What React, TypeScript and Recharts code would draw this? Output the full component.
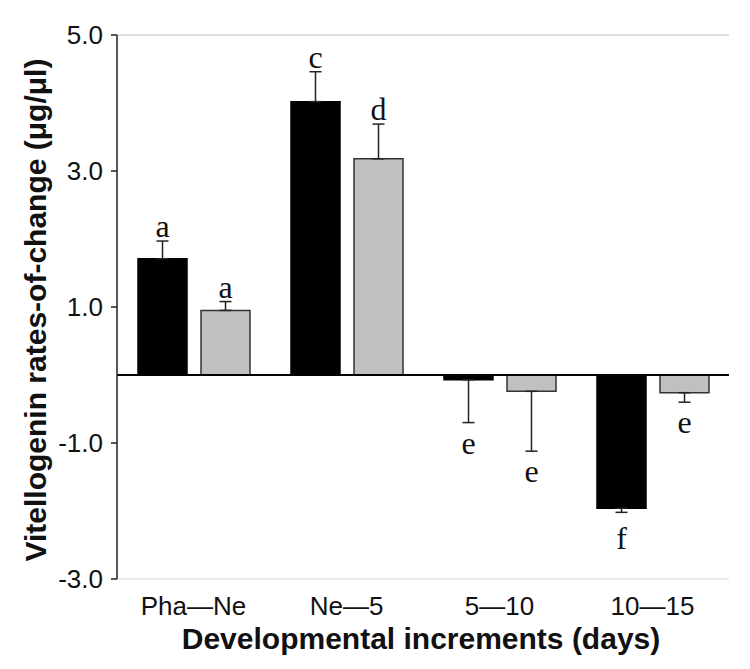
import { Bar, BarChart, ErrorBar, Label, LabelList, ReferenceLine, XAxis, YAxis } from "recharts";

const categories = ["Pha—Ne", "Ne—5", "5—10", "10—15"];
const blackValues = [1.71, 4.02, -0.07, -1.96];
const blackErrors = [0.26, 0.44, 0.63, 0.06];
const blackLetters = ["a", "c", "e", "f"];
const grayValues = [0.95, 3.18, -0.24, -0.26];
const grayErrors = [0.13, 0.51, 0.88, 0.14];
const grayLetters = ["a", "d", "e", "e"];
const yTicks = [-3, -1, 1, 3, 5];

// one-sided error bars: up for positive bars, down for negative ones
const oneSided = (v: number, e: number) => (v >= 0 ? [0, e] : [e, 0]);

const data = categories.map((name, i) => ({
  name,
  black: blackValues[i],
  blackErr: oneSided(blackValues[i], blackErrors[i]),
  gray: grayValues[i],
  grayErr: oneSided(grayValues[i], grayErrors[i]),
}));

const sans = "'Liberation Sans', Arial, sans-serif";
const serif = "'Liberation Serif', 'Times New Roman', serif";

function letterContent(values: number[], errors: number[], letters: string[]) {
  return (props: any) => {
    const i = categories.indexOf(props.value);
    if (i < 0) return null;
    const vb = props.viewBox ?? props;
    const x = vb.x ?? props.x;
    const y = vb.y ?? props.y;
    const w = vb.width ?? props.width;
    const h = vb.height ?? props.height;
    const v = values[i];
    const ppu = Math.abs(h / v);
    const endY = v >= 0 ? Math.min(y, y + h) : Math.max(y, y + h);
    const capY = v >= 0 ? endY - errors[i] * ppu : endY + errors[i] * ppu;
    // below the cap, letters with ascenders sit a little lower
    const tall = /[bdfhklt]/.test(letters[i]) ? 6 : 0;
    const ty = v >= 0 ? capY - 4 : capY + 31 + tall;
    return (
      <text
        x={x + w / 2}
        y={ty}
        textAnchor="middle"
        fontFamily={serif}
        fontSize={32}
        fill="#111"
      >
        {letters[i]}
      </text>
    );
  };
}

export default function App() {
  return (
    <div style={{ position: "absolute", left: 0, top: 0, background: "#fff" }}>
      <BarChart
        width={750}
        height={669}
        data={data}
        margin={{ top: 35, right: 21, left: 0, bottom: 50 }}
        barSize={49}
        barGap={14}
      >
        <XAxis
          dataKey="name"
          stroke="#d6d6d6"
          tickLine={false}
          tickSize={0}
          tickMargin={18}
          height={40}
          tick={{ fontSize: 26, fill: "#111", fontFamily: sans }}
        >
          <Label
            content={() => (
              <text
                x={421}
                y={649}
                textAnchor="middle"
                fontFamily={sans}
                fontWeight="bold"
                fontSize={30}
                fill="#111"
              >
                Developmental increments (days)
              </text>
            )}
          />
        </XAxis>
        <YAxis
          domain={[-3, 5]}
          ticks={yTicks}
          width={117}
          stroke="#222"
          strokeWidth={1.5}
          tickSize={6}
          tickMargin={8}
          tickFormatter={(v: number) => v.toFixed(1)}
          tick={{ fontSize: 26, fill: "#111", fontFamily: sans }}
          interval={0}
        >
          <Label
            content={() => (
              <text
                transform="translate(35,310) rotate(-90)"
                textAnchor="middle"
                dominantBaseline="central"
                fontFamily={sans}
                fontWeight="bold"
                fontSize={30}
                fill="#111"
              >
                Vitellogenin rates-of-change (μg/μl)
              </text>
            )}
          />
        </YAxis>
        <YAxis
          yAxisId="frame"
          orientation="right"
          domain={[-3, 5]}
          width={0}
          stroke="#d6d6d6"
          tick={false}
          tickLine={false}
        />
        <ReferenceLine y={5} stroke="#d6d6d6" strokeWidth={1.5} />
        <Bar dataKey="black" fill="#000" stroke="#000" strokeWidth={1.5} isAnimationActive={false}>
          <ErrorBar dataKey="blackErr" width={6} stroke="#222" strokeWidth={1.5} direction="y" />
          <LabelList dataKey="name" content={letterContent(blackValues, blackErrors, blackLetters)} />
        </Bar>
        <Bar dataKey="gray" fill="#c0c0c0" stroke="#333" strokeWidth={1.5} isAnimationActive={false}>
          <ErrorBar dataKey="grayErr" width={6} stroke="#222" strokeWidth={1.5} direction="y" />
          <LabelList dataKey="name" content={letterContent(grayValues, grayErrors, grayLetters)} />
        </Bar>
        <ReferenceLine y={0} stroke="#000" strokeWidth={2} />
      </BarChart>
    </div>
  );
}
